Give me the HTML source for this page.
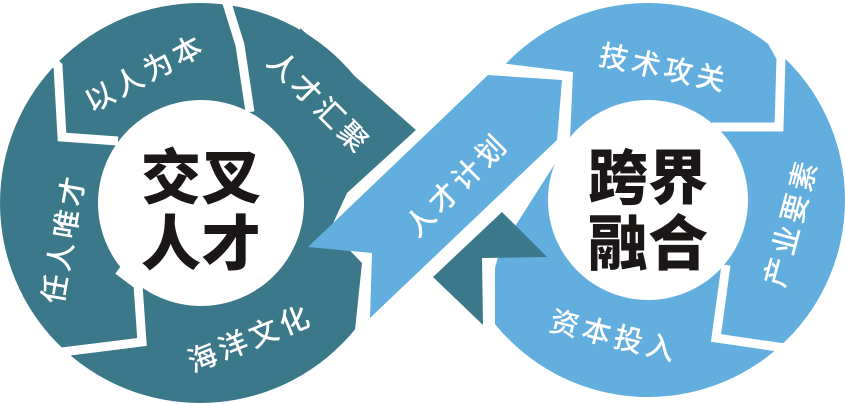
<!DOCTYPE html>
<html><head><meta charset="utf-8"><style>
html,body{margin:0;padding:0;background:#fff;width:845px;height:404px;overflow:hidden}
text{font-family:"Liberation Sans","Noto Sans CJK SC",sans-serif}
.l{fill:#fff;font-size:29px;letter-spacing:4px;font-weight:500}
.c{fill:#1a1716;font-size:60px;font-weight:900}
</style></head><body>
<svg width="845" height="404" viewBox="0 0 845 404" xmlns="http://www.w3.org/2000/svg">
<!-- left ring -->
<circle cx="200" cy="203" r="200" fill="#3B7889"/>
<polygon points="300,28 416,130 347,193 310,170" fill="#3B7889"/>
<polygon points="347,193 416,130 470,130 470,360 355,360 355,330 362,263 330,230" fill="#fff"/>
<circle cx="201" cy="203" r="103" fill="#fff"/>
<g fill="none" stroke="#fff" stroke-width="9" stroke-linejoin="miter">
<polyline points="226,0 240,45 250,112"/>
<polyline points="40,50 58,66 62,137 118,141"/>
<polyline points="118,270 138,285 142,342 62,352"/>
</g>
<!-- right ring -->
<circle cx="648" cy="200" r="197" fill="#62AEDF"/>
<polygon points="430,50 500,63 573,72 570,140 500,250 495,268 495,360 430,360" fill="#fff"/>
<circle cx="648" cy="200" r="100" fill="#fff"/>
<g fill="none" stroke="#fff" stroke-width="9">
<polyline points="770,38 781,58 779,127 712,127"/>
<polyline points="726,265 716,338 798,350"/>
</g>
<!-- band and arrow -->
<polygon points="308,247 372,253 370,318 557,140 562,80 488,75" fill="#62AEDF"/>
<polygon points="433,277 502,212 547,257 482,258 483,325" fill="#3B7889"/>
<!-- labels -->
<text class="l" text-anchor="middle" transform="translate(150,82) rotate(-28)">以人为本</text>
<text class="l" text-anchor="middle" transform="translate(312,110) rotate(45)">人才汇聚</text>
<text class="l" text-anchor="middle" transform="translate(74,240) rotate(-80)">任人唯才</text>
<text class="l" text-anchor="middle" transform="translate(254,348) rotate(-22)">海洋文化</text>
<text class="l" text-anchor="middle" transform="translate(464,192) rotate(-45)">人才计划</text>
<text class="l" text-anchor="middle" transform="translate(662,78) rotate(12)">技术攻关</text>
<text class="l" text-anchor="middle" transform="translate(801,225) rotate(-75)">产业要素</text>
<text class="l" text-anchor="middle" transform="translate(612,346) rotate(14)">资本投入</text>
<text class="c" x="201" y="199" text-anchor="middle">交叉</text>
<text class="c" x="201" y="265" text-anchor="middle">人才</text>
<text class="c" x="648" y="199" text-anchor="middle">跨界</text>
<text class="c" x="648" y="265" text-anchor="middle">融合</text>
</svg>
</body></html>
